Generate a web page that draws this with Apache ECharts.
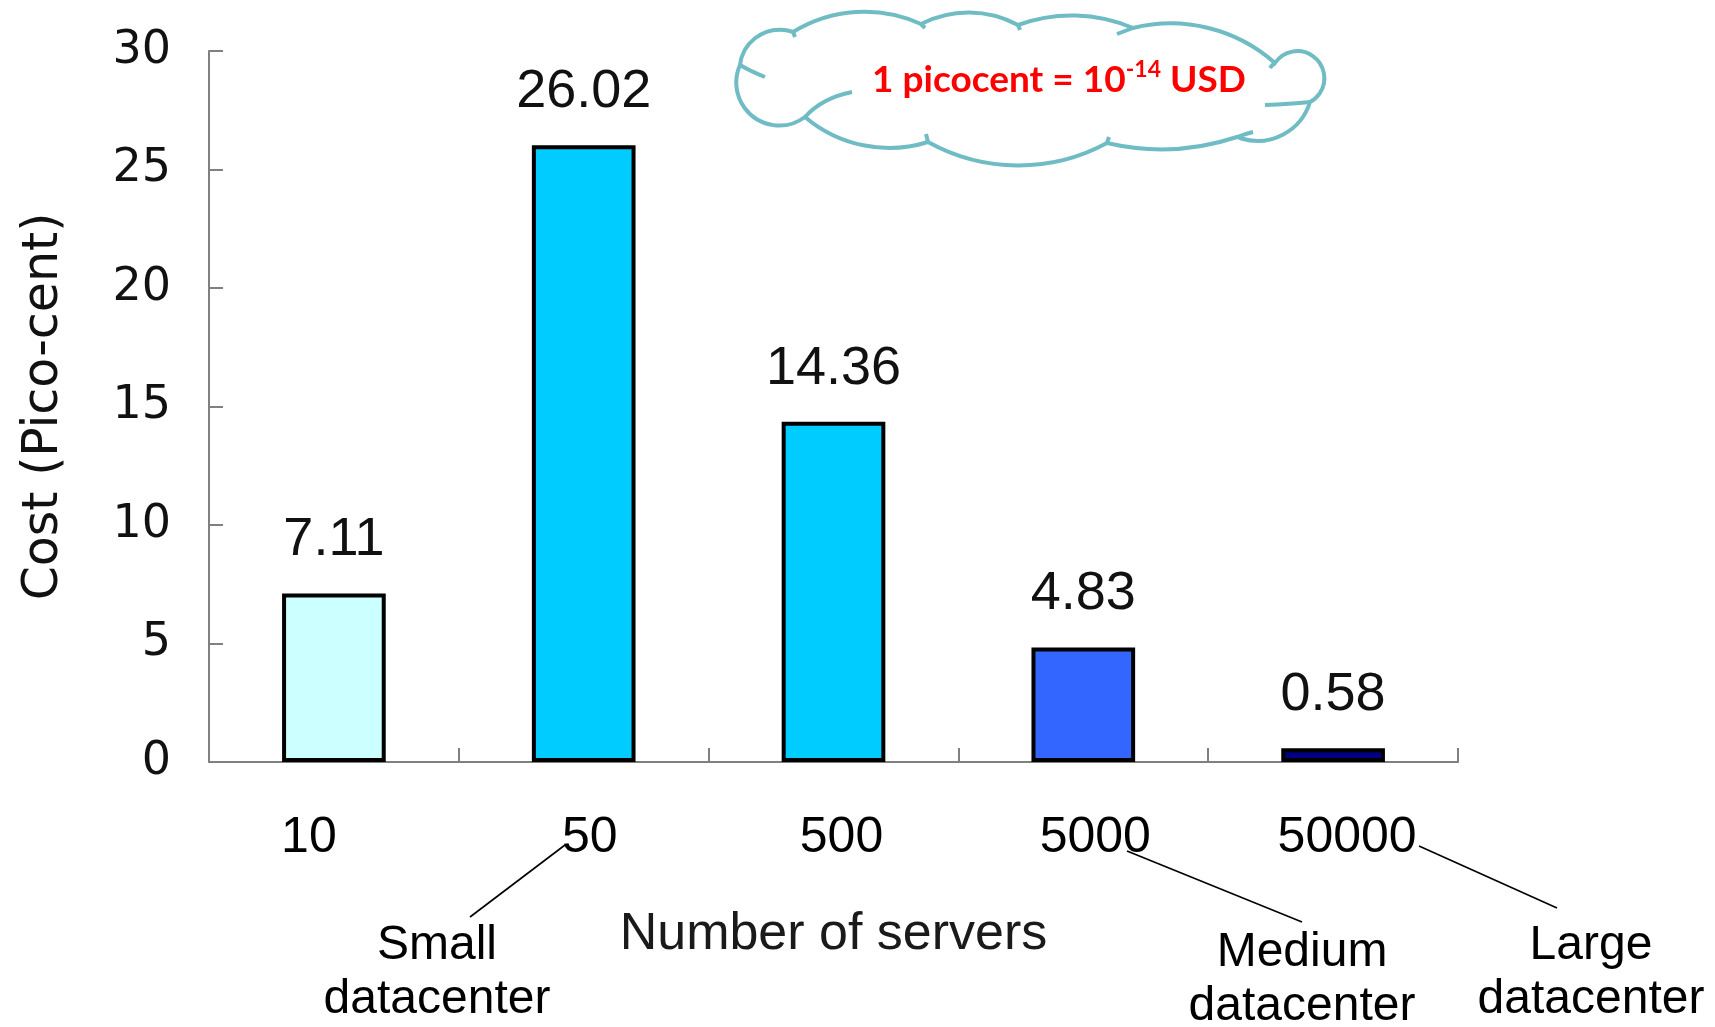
<!DOCTYPE html>
<html>
<head>
<meta charset="utf-8">
<script src="https://cdn.jsdelivr.net/npm/echarts@6/dist/echarts.min.js"></script>
<style>
html,body{margin:0;padding:0;background:#fff;}
#chart{width:1715px;height:1027px;}
</style>
</head>
<body>
<div id="chart"></div>
<script>
// ---- data ----
const categories = ['10', '50', '500', '5000', '50000'];
const costs = [7.11, 26.02, 14.36, 4.83, 0.58];
const yTickMin = 0, yTickMax = 30, yTickStep = 5;
const xAxisTitle = 'Number of servers';
const yAxisTitle = 'Cost (Pico-cent)';
const noteText = ['1 picocent = 10', '-14', ' USD'];
const sizeLabels = ['Small\ndatacenter', 'Medium\ndatacenter', 'Large\ndatacenter'];

// ---- style ----
const barColors = ['#ccffff', '#00ccff', '#00ccff', '#3366ff', '#000080'];
const labelShift = [-25, 6, 8, 12, 14];

const cloudPath =
  'M 740 65 ' +
  'A 40 40 0 0 1 793 32 ' +
  'A 136 136 0 0 1 921 24 ' +
  'A 104 104 0 0 1 1018 25 ' +
  'A 156 156 0 0 1 1133 28 ' +
  'A 157 157 0 0 1 1275 63 ' +
  'A 27 27 0 1 1 1310 102 ' +
  'A 55 55 0 0 1 1237 137 ' +
  'A 239 239 0 0 1 1107 143 ' +
  'A 186 186 0 0 1 928 142 ' +
  'A 130 130 0 0 1 805 117 ' +
  'A 43 43 0 0 1 740 65 Z';

const innerArcs =
  'M 740 65 Q 750 71 765 77 ' +
  'M 805 117 Q 822 98 852 92 ' +
  'M 928 142 Q 927 138 926 134 ' +
  'M 1133 28 Q 1125 31 1117 34 ' +
  'M 1310 102 Q 1290 104 1265 105 ' +
  'M 1237 137 Q 1245 134 1253 132 ' +
  'M 1107 143 Q 1108 140 1109 137 ' +
  'M 793 32 Q 794 34 795 37 ' +
  'M 921 24 Q 923 26 925 28 ' +
  'M 1018 25 Q 1019 27 1020 30 ' +
  'M 1275 63 Q 1272 65 1270 68';

echarts.graphic.registerShape('cloudOutline', echarts.graphic.extendPath(cloudPath, {}));
echarts.graphic.registerShape('cloudInner', echarts.graphic.extendPath(innerArcs, {}));

const chart = echarts.init(document.getElementById('chart'));

const rich = {};
categories.forEach((c, i) => {
  const s = labelShift[i];
  rich['c' + i] = {
    fontFamily: 'Liberation Sans, Arial, sans-serif',
    fontSize: 50,
    lineHeight: 50,
    color: '#000',
    padding: s >= 0 ? [0, 0, 0, 2 * s] : [0, -2 * s, 0, 0]
  };
});

const graphics = [
  {
    type: 'cloudOutline', z: 10,
    style: { fill: '#fff', stroke: '#6fbcc4', lineWidth: 4 }
  },
  {
    type: 'cloudInner', z: 11,
    style: { fill: 'none', stroke: '#6fbcc4', lineWidth: 4 }
  }
];
graphics.push({
  type: 'text', z: 12, x: 1059, y: 80,
  style: {
    text: '{a|' + noteText[0] + '}{s|' + noteText[1] + '}{a|' + noteText[2] + '}',
    align: 'center', verticalAlign: 'middle',
    textAlign: 'center', textVerticalAlign: 'middle',
    rich: {
      a: { fontFamily: 'Lato, Open Sans, sans-serif', fontWeight: 'bold', fontSize: 37, lineHeight: 44, fill: '#ff0000', color: '#ff0000', verticalAlign: 'middle' },
      s: { fontFamily: 'Lato, Open Sans, sans-serif', fontWeight: 'bold', fontSize: 23, lineHeight: 24, fill: '#ff0000', color: '#ff0000', verticalAlign: 'top' }
    }
  }
});

// leader lines + size labels
const leaderLines = [
  [470, 917, 565, 845],
  [1127, 851, 1302, 922],
  [1419, 846, 1557, 908]
];
const sizeLabelPos = [[437, 973], [1302, 980], [1591, 973]];
leaderLines.forEach(l => graphics.push({
  type: 'line', z: 5,
  shape: { x1: l[0], y1: l[1], x2: l[2], y2: l[3] },
  style: { stroke: '#000', lineWidth: 1.6 }
}));
sizeLabels.forEach((t, i) => graphics.push({
  type: 'text', z: 5, x: sizeLabelPos[i][0], y: sizeLabelPos[i][1],
  style: {
    text: t, fill: '#000',
    font: '48px "Liberation Sans", Arial, sans-serif',
    lineHeight: 54,
    align: 'center', verticalAlign: 'middle',
    textAlign: 'center', textVerticalAlign: 'middle'
  }
}));

const option = {
  backgroundColor: '#fff',
  animation: false,
  grid: { left: 209, right: 257, top: 51, bottom: 265, containLabel: false },
  xAxis: {
    type: 'category',
    data: categories,
    boundaryGap: true,
    name: xAxisTitle,
    nameLocation: 'middle',
    nameGap: 147,
    nameTextStyle: { fontFamily: 'Liberation Sans, Arial, sans-serif', fontSize: 52, color: '#1a1a1a' },
    axisLine: { lineStyle: { color: '#808080', width: 2 } },
    axisTick: { show: true, inside: true, length: 14, interval: 0, lineStyle: { color: '#808080', width: 2 } },
    axisLabel: {
      margin: 51,
      interval: 0,
      formatter: (v, i) => '{c' + i + '|' + v + '}',
      rich: rich
    },
    splitLine: { show: false }
  },
  yAxis: {
    type: 'value',
    min: yTickMin, max: yTickMax, interval: yTickStep,
    name: yAxisTitle,
    nameLocation: 'middle',
    nameGap: 140,
    nameRotate: 90,
    nameTextStyle: { fontFamily: 'DejaVu Sans, sans-serif', fontSize: 49, color: '#111' },
    axisLine: { show: true, lineStyle: { color: '#808080', width: 2 } },
    axisTick: { show: true, inside: true, length: 14, lineStyle: { color: '#808080', width: 2 } },
    axisLabel: { margin: 38, fontFamily: 'DejaVu Sans, sans-serif', fontSize: 46, color: '#111' },
    splitLine: { show: false }
  },
  series: [{
    type: 'bar',
    barWidth: '41.5%',
    data: costs.map((v, i) => ({ value: v, itemStyle: { color: barColors[i] } })),
    itemStyle: { borderColor: '#000', borderWidth: 4 },
    label: {
      show: true, position: 'top', distance: 26,
      fontFamily: 'Liberation Sans, Arial, sans-serif', fontSize: 54, color: '#111',
      formatter: p => p.value.toFixed(2)
    }
  }],
  graphic: graphics
};
chart.setOption(option);
</script>
</body>
</html>
